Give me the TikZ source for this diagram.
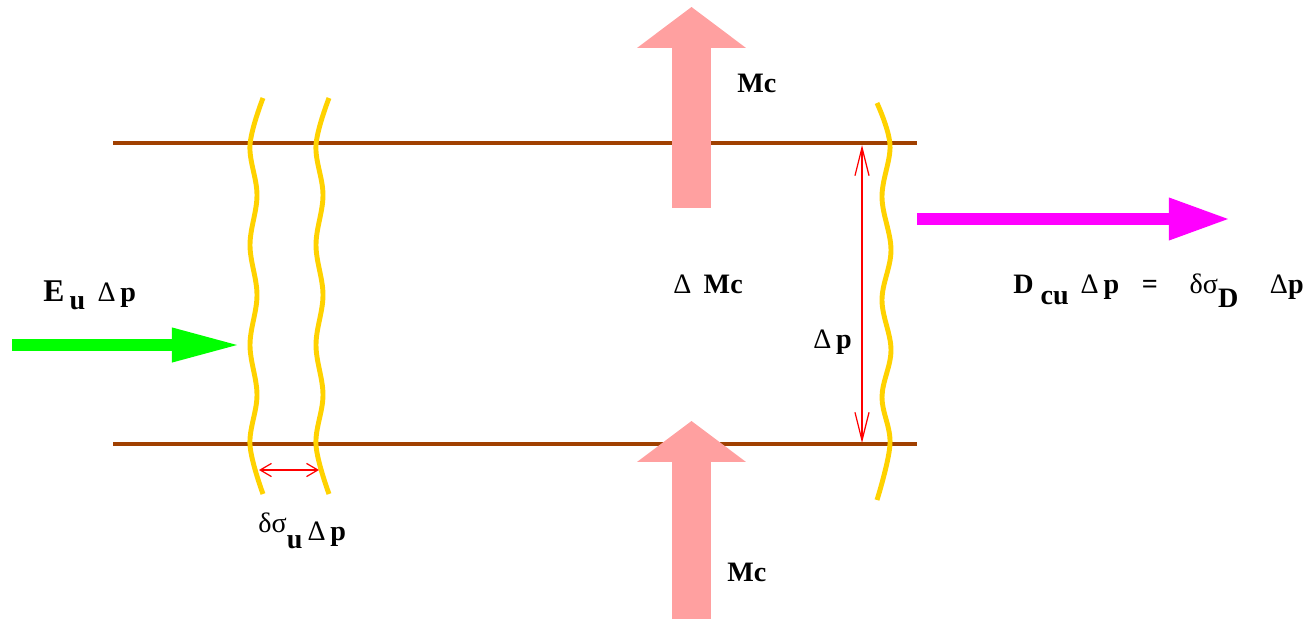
\documentclass[tikz,border=0pt]{standalone}
\usepackage{fontspec}
\setmainfont{Liberation Serif}
\usetikzlibrary{arrows.meta}
\definecolor{wallBrown}{RGB}{160,64,0}
\definecolor{frontGold}{RGB}{255,210,0}
\definecolor{fluxPink}{RGB}{255,160,160}
\definecolor{inGreen}{RGB}{0,255,0}
\definecolor{outMagenta}{RGB}{255,0,255}
\newcommand{\gk}[1]{{\mdseries #1}}

\begin{document}
\begin{tikzpicture}[
  x=0.02cm,
  y=-0.02cm,
  every node/.style={font=\bfseries\fontsize{16}{19}\selectfont, inner sep=0pt, anchor=base west}
]

% ---------- styles ----------
\tikzset{
  wallLine/.style={draw=wallBrown, line width=2.8pt},
  frontLine/.style={draw=frontGold, line width=2.8pt},
  inArrow/.style={draw=inGreen, line width=6.8pt, -{Triangle[length=37pt, width=20pt, line width=0pt]}},
  outArrow/.style={draw=outMagenta, line width=6.8pt, -{Triangle[length=33.6pt, width=24.5pt, line width=0pt]}},
  fluxArrow/.style={draw=fluxPink, line width=22.2pt, -{Triangle[length=23.3pt, width=62pt, line width=0pt]}},
  gapArrow/.style={draw=red, line width=0.7pt, {Straight Barb[length=16pt, width=8pt]}-{Straight Barb[length=16pt, width=8pt]}},
  stepArrow/.style={draw=red, line width=0.7pt, {Straight Barb[length=6.4pt, width=7.5pt]}-{Straight Barb[length=6.4pt, width=7.5pt]}}
}

\useasboundingbox (0,0) rectangle (1313,619);

% ---------- layer walls ----------
\coordinate (topL) at (113,143);
\coordinate (topR) at (917,143);
\coordinate (botL) at (113,444);
\coordinate (botR) at (917,444);
\draw[wallLine] (topL) -- (topR);
\draw[wallLine] (botL) -- (botR);

% ---------- wavy fronts ----------
\draw[frontLine] plot[smooth, tension=0.6] coordinates {(263,98) (250,145) (257,195) (250,245) (257,295) (250,345) (257,395) (250,445) (263,494)};
\draw[frontLine] plot[smooth, tension=0.6] coordinates {(329,98) (316,145) (323,195) (316,245) (323,295) (316,345) (323,395) (316,445) (329,494)};
\draw[frontLine] plot[smooth, tension=0.6] coordinates {(877,103) (890,145) (882,197) (891,250) (882,300) (891,350) (882,397) (890,444) (877,500)};

% ---------- fluxes ----------
\coordinate (inTail) at (12,345);
\coordinate (inTip) at (237,345);
\coordinate (outTail) at (917,219);
\coordinate (outTip) at (1228,219);
\coordinate (upTail) at (691.5,208);
\coordinate (upTip) at (691.5,7);
\coordinate (loTail) at (691.5,619);
\coordinate (loTip) at (691.5,421);
\draw[inArrow] (inTail) -- (inTip);
\draw[outArrow] (outTail) -- (outTip);
\draw[fluxArrow] (upTail) -- (upTip);
\draw[fluxArrow] (loTail) -- (loTip);

% ---------- spacings ----------
\coordinate (gapTop) at (862,145);
\coordinate (gapBot) at (862,443);
\coordinate (stepL) at (259,470);
\coordinate (stepR) at (319,470);
\draw[gapArrow] (gapTop) -- (gapBot);
\draw[stepArrow] (stepL) -- (stepR);

% ---------- labels ----------
\node (inLabel) at (43,301) {{\fontsize{18}{20}\selectfont E}\hspace{3pt}\raisebox{-5pt}{u}\hspace{7pt}\gk{Δ}\,p};
\node (stepLabel) at (258,540) {\raisebox{4.5pt}{\gk{δσ}}\raisebox{-5pt}{u}\hspace{3pt}\gk{Δ}\,p};
\node (outLabel) at (1013,293) {D\hspace{4pt}\raisebox{-6.8pt}{cu}\hspace{6.8pt}\gk{Δ}\,p\hspace{13pt}=\hspace{18pt}\gk{δσ}\raisebox{-8.5pt}{D}\hspace{18pt}\gk{Δ}p};
\node (midLabel) at (673,293) {\gk{Δ}\hspace{7pt}Mc};
\node (gapLabel) at (813,348) {\gk{Δ}\,p};
\node (upLabel) at (737,92) {Mc};
\node (loLabel) at (727,581) {Mc};

\end{tikzpicture}
\end{document}
